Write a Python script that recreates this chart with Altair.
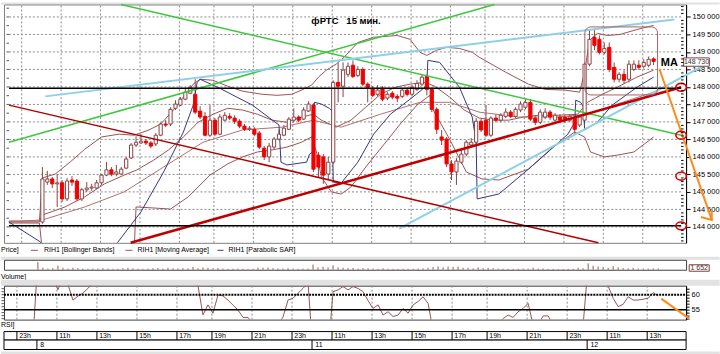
import altair as alt
import pandas as pd

FONT = "Liberation Sans"
BROWN = "#9c5353"
WICK = "#8a4545"
NAVY = "#36367e"
GRID = "#8c8c8c"
GREY = "#e2e2e2"
RED_BODY = "#f20000"

# x = 15-minute bar index (bar 0 = day 8, 10:00)
XMIN, XMAX = -6.78, 129.58
LEFT_EDGE, RIGHT_EDGE = -7.38, 136.3
PMIN, PMAX = 143545, 150356
RMIN, RMAX = 51.67, 63
W = 684

# ---------------- candles (RIH1, 15 min) ----------------
opens = [144140, 145280, 145370, 145230, 145260, 144800, 145340, 145310, 144800, 145060,
         145110, 145110, 145260, 145480, 145630, 145510, 145510, 145680, 145970, 146340,
         146400, 146450, 146400, 146370, 146620, 146940, 146940, 147390, 147480, 147650,
         147820, 147790, 147310, 147160, 146620, 147050, 146650, 147050, 147160, 147110,
         147020, 146880, 146790, 146790, 146680, 146250, 146000, 146280, 146510, 146620,
         146790, 147050, 147140, 147080, 147310, 147480, 146050, 146000, 145510, 145850,
         148130, 148020, 148360, 148620, 148330, 148500, 148080, 147960, 147790, 147960,
         147680, 147820, 147730, 147730, 147910, 147790, 147930, 148080, 148300, 147930,
         147360, 146570, 146510, 145800, 145570, 145850, 146080, 146340, 146420, 147020,
         147050, 146620, 147110, 147050, 147160, 147280, 147160, 147340, 147420, 147560,
         147110, 146990, 147140, 147280, 147050, 147140, 147140, 147050, 147110, 146910,
         147050, 148650, 149420, 149360, 148990, 149130, 148560, 148220, 148360, 148220,
         148500, 148620, 148590, 148620, 148800]
closes = [145370, 145370, 145230, 145260, 144800, 145310, 145280, 144800, 145060, 145110,
          145140, 145260, 145480, 145630, 145510, 145570, 145650, 145940, 146340, 146420,
          146450, 146400, 146310, 146620, 146940, 146910, 147360, 147510, 147650, 147850,
          147990, 147280, 147140, 146620, 147050, 146650, 147140, 147190, 147110, 147020,
          146880, 146790, 146820, 146650, 146280, 146000, 146310, 146510, 146650, 146820,
          147080, 147140, 147050, 147340, 147510, 145650, 145710, 145480, 145850, 148130,
          148020, 148480, 148590, 148300, 148500, 148080, 147990, 147760, 147910, 147650,
          147790, 147710, 147680, 147910, 147790, 147990, 148100, 148280, 147930, 147360,
          146790, 146480, 145800, 145570, 145880, 146080, 146420, 146420, 147020, 146770,
          146620, 147110, 147050, 147190, 147280, 147160, 147360, 147510, 147560, 147080,
          146990, 147280, 147280, 147140, 147190, 147050, 147050, 147160, 146790, 147140,
          148650, 149360, 149190, 148990, 149100, 148500, 148220, 148360, 148190, 148650,
          148650, 148560, 148700, 148790, 148730]
highs = [145710, 145600, 145430, 145510, 145340, 145400, 145450, 145370, 145110, 145280,
         145230, 145340, 145510, 145850, 145710, 145770, 145710, 146000, 146400, 146590,
         146650, 146510, 146450, 146680, 146990, 147050, 147420, 147620, 147710, 147960,
         148050, 148220, 147450, 147280, 147480, 147110, 147220, 147280, 147250, 147190,
         147080, 146940, 146880, 146850, 146740, 146310, 146400, 146570, 146790, 146910,
         147140, 147390, 147190, 147420, 147590, 147530, 146140, 146080, 146000, 148190,
         148700, 148700, 148700, 148760, 148590, 148560, 148130, 148020, 148050, 148020,
         147850, 147880, 147790, 147960, 147990, 148050, 148190, 148360, 148360, 147990,
         147420, 146770, 146570, 145910, 145970, 146200, 146480, 146540, 147110, 147080,
         147480, 147160, 147220, 147250, 147390, 147340, 147420, 147590, 147650, 147650,
         147190, 147360, 147390, 147340, 147250, 147220, 147190, 147220, 147190, 147190,
         148700, 149620, 149670, 149470, 149270, 149270, 148700, 148420, 148480, 148760,
         148760, 148760, 148790, 148870, 148850]
lows = [144090, 145200, 145110, 144570, 144710, 144740, 145170, 144740, 144740, 145000,
        145030, 145080, 145200, 145450, 145450, 145450, 145480, 145650, 145940, 146280,
        146370, 146340, 146250, 146310, 146590, 146850, 146880, 147340, 147450, 147620,
        147790, 147220, 147080, 146590, 146570, 146590, 146620, 147020, 147050, 146940,
        146820, 146740, 146740, 146590, 146220, 145910, 145850, 146220, 146480, 146590,
        146770, 146990, 146990, 147050, 147280, 145570, 145430, 145230, 145340, 145800,
        147560, 147710, 148280, 148250, 148280, 148020, 147560, 147710, 147730, 147590,
        147620, 147650, 147560, 147680, 147730, 147730, 147880, 148020, 147760, 147280,
        146650, 146340, 145710, 145340, 145200, 145800, 146020, 146280, 146370, 146710,
        146570, 146570, 146990, 146990, 147110, 147110, 147110, 147280, 147360, 147020,
        146910, 146940, 147080, 147050, 146990, 146960, 146960, 146990, 146650, 146850,
        146940, 148590, 149050, 148930, 148930, 148420, 148130, 148130, 148080, 148130,
        148450, 148480, 148530, 148560, 148620]

# ---------------- indicators ----------------
bbu_i = [-6.8, -0.6, 0, 2.6, 5.6, 8.6, 12, 15.6, 18.6, 21.6, 24, 26.6, 28.6, 30.6, 32, 34.6, 37.6,
         40.6, 44.6, 47.6, 50.6, 52.6, 54.6, 56, 57.6, 59.6, 61.2, 64, 67.2, 72, 74.6, 76.6, 78, 80,
         82, 84.6, 87.2, 88.6, 94, 98.6, 102, 106, 109, 110, 111, 112.6, 114.6, 117.2, 120.6, 124]
bbu_p = [144170, 144170, 145400, 145510, 145850, 146220, 146570, 146650, 146620, 146770, 146940,
         147340, 147710, 148080, 148220, 148190, 148020, 147880, 147790, 147760, 147790, 147910,
         148050, 148280, 148480, 148650, 148850, 149270, 149420, 149470, 149360, 148990, 148900,
         149050, 149130, 149100, 148990, 148850, 148420, 148080, 147930, 147910, 147850, 148420,
         149330, 149530, 149470, 149500, 149640, 149760]
bbm_i = [-6.8, -0.6, 0, 4.6, 8.6, 12.6, 16.6, 19.2, 22.6, 25.6, 28.6, 31.6, 34.6, 37.6, 40.6, 43.6,
         46.6, 49.6, 52.6, 55, 56.6, 59.6, 62.6, 65.6, 68.6, 71.6, 74.6, 77.6, 79.6, 82.6, 85.6, 88.6,
         91.6, 94.6, 97.6, 100.6, 104.6, 108.6, 110.6, 113.6, 116.6, 120.6, 124]
bbm_p = [144140, 144140, 144340, 144570, 144860, 145230, 145480, 145630, 145910, 146200, 146570,
         146990, 147220, 147390, 147340, 147220, 147050, 146990, 147140, 147220, 147050, 146850,
         147050, 147420, 147790, 147990, 148080, 148130, 148020, 147710, 147340, 147110, 147050,
         147050, 147140, 147190, 147190, 147220, 147560, 147790, 147990, 148280, 148480]
bbl_i = [-6.8, -0.6, 0, 18.6, 19, 22.6, 26, 29.6, 34, 37.6, 40.6, 43.6, 46.6, 49.6, 52.6, 54.6, 55.6,
         56.6, 58.6, 60.6, 62.6, 65.6, 69.2, 72.6, 76, 78.6, 79.2, 82.6, 86, 89.2, 92.6, 98.6, 103.6,
         108, 110, 111.2, 114, 116.6, 120, 124]
bbl_p = [144110, 144110, 143290, 143290, 144570, 144540, 144510, 144860, 145480, 145800, 146000,
         146140, 146200, 146280, 146420, 146570, 146140, 145430, 145000, 144940, 145140, 145710,
         146340, 146940, 147480, 147760, 147360, 146510, 145570, 145370, 145340, 145650, 146280,
         146710, 146570, 146140, 146000, 146050, 146140, 146570]
ma_i = [-6.8, 0, 8.6, 16.6, 24.6, 32.6, 40.6, 48.6, 55, 60.6, 68.6, 76.6, 82.6, 88.6, 96.6, 104.6,
        110.6, 116.6, 124]
ma_p = [144140, 144200, 144570, 145000, 145710, 146420, 146770, 146850, 147050, 146850, 147220,
        147560, 147560, 147280, 147140, 147140, 147220, 147510, 147850]
sar_i = [-6.8, -0.4, 0.6, 14.6, 15.2, 20, 24.6, 28.6, 30.6, 31.4, 32, 36, 42.6, 48, 48.4, 49.6, 53.6,
         54.2, 54.8, 55.2, 56.6, 58.2, 58.8, 59, 60.6, 64, 67.2, 70.6, 74.6, 77.6, 78, 78.2, 80.6,
         84.6, 87.2, 88, 88.2, 92.6, 98.6, 103.2, 106.6, 108, 108.2, 109.2, 109.8, 110, 112.6, 115.6,
         120.6, 124]
sar_p = [144140, 143570, 143000, 143140, 143545, 144430, 145570, 146710, 147480, 148130, 148220,
         147960, 147480, 146910, 145850, 145770, 145850, 146080, 146140, 147560, 147510, 147390,
         147310, 145280, 145250, 145850, 146650, 147220, 147650, 147990, 148130, 148760, 148700,
         147990, 147140, 146420, 144800, 144940, 145650, 146220, 146650, 146990, 147620, 147560,
         147420, 146770, 146990, 147480, 147990, 148280]

volume = [9500, 2500, 1500, 2000, 5000, 2500, 1500, 2500, 2000, 1500,
          1200, 1500, 1500, 2000, 1500, 1200, 1300, 2000, 2500, 1800,
          1500, 1200, 1400, 1800, 2200, 1500, 2500, 1800, 1600, 2000,
          1800, 3500, 2000, 2800, 2500, 2000, 2200, 1500, 1200, 1300,
          1500, 1200, 1000, 1300, 2500, 2500, 2800, 2000, 1600, 1500,
          1800, 1500, 1200, 1400, 1500, 6500, 3000, 3500, 3000, 5500,
          3000, 2500, 2000, 2200, 1500, 2000, 1800, 1600, 1200, 1800,
          1300, 1200, 1100, 1300, 1200, 1300, 1500, 1800, 2500, 3500,
          4000, 3000, 4000, 3500, 3800, 2500, 2500, 1800, 3000, 2000,
          2500, 2000, 1500, 1300, 1200, 1100, 1300, 1500, 1400, 2500,
          1500, 1600, 1200, 1100, 1000, 1000, 1200, 1100, 2500, 1800,
          8000, 5000, 4000, 3500, 2500, 4500, 3000, 2000, 1800, 2500,
          1600, 1500, 1400, 1700, 1652]

rsi_start = -6
rsi = [45, 45, 45, 45, 45, 45,
       72, 70, 68, 66, 61.6, 66, 63.5, 58.2, 59.5, 60.5,
       62.1, 64, 66, 68, 67, 70, 69, 68, 71, 73,
       72, 74, 73, 75, 76, 74, 75, 77, 76, 78,
       77, 68, 63, 53.2, 56.6, 53.8, 59.9, 59.6, 58.2, 56.5,
       54.9, 52.4, 52.4, 50, 47, 44, 46, 48, 50, 52.5,
       58.2, 58.8, 60.5, 62.1, 64, 40, 38, 36, 40, 61,
       61.6, 62.7, 61.6, 62.7, 62.1, 61, 58, 55.4, 56.6, 53.2,
       54.3, 52.7, 53.2, 55.4, 53.8, 56.6, 57.7, 59.3, 57.1, 48,
       42, 40, 35, 33, 38, 41, 45, 45, 49, 47,
       46, 49, 50, 52, 53.2, 52.4, 54.3, 55.4, 57.1, 50,
       50, 52.9, 52.9, 50, 51, 50, 50.5, 51, 47, 50,
       70, 74, 70, 66, 62.9, 58.8, 56, 56.8, 59.3, 58.2,
       58.2, 58.5, 58.8, 60.7, 59.6]

price_ticks = [144000, 144500, 145000, 145500, 146000, 146500, 147000,
               147500, 148000, 148500, 149000, 149500, 150000]
hour_bars = [-4, 4, 12, 20, 28, 35, 43, 51, 59, 67, 75, 83, 90, 98, 106, 114, 122]
hour_labels = ["23h", "11h", "13h", "15h", "17h", "19h", "21h", "23h", "11h",
               "13h", "15h", "17h", "19h", "21h", "23h", "11h", "13h"]
day_bars = [0, 55, 110]
day_labels = ["8", "11", "12"]

# drawn objects: (id, colour, width, [(bar, price), ...])
trend_lines = [
    ("g1", "#3cc83c", 1.5, [(15.95, 150356), (129.58, 146620)]),
    ("g2", "#3cc83c", 1.5, [(-6.78, 146420), (91.7, 150356)]),
    ("b1", "#8fd0e8", 2.0, [(0.6, 147730), (128.2, 149930)]),
    ("b2", "#8fd0e8", 2.0, [(72.4, 143950), (135.4, 148700)]),
    ("r1", "#b00000", 1.5, [(-6.78, 147480), (112.8, 143545)]),
    ("r2", "#c00000", 2.5, [(17.9, 143545), (129.58, 147990)]),
    ("k1", "#000000", 1.5, [(-6.78, 147960), (129.58, 147960)]),
    ("k2", "#000000", 1.5, [(-6.78, 144030), (129.58, 144030)]),
    ("o1", "#ff8a1c", 2.0, [(125.2, 148504), (135.8, 144200)]),
    ("o2", "#ff8a1c", 2.0, [(135.8, 144457), (135.8, 144200), (133.6, 144285)]),
]
circle_p = [147990, 146620, 145450, 144030]

# ---------------- axes & helpers ----------------
grid_x = [b - 0.2 for b in hour_bars]
y_axis = alt.Axis(orient="right", values=price_ticks, grid=False,
                  labelExpr="replace(format(datum.value, ','), ',', ' ')", labelFont=FONT,
                  labelFontSize=7.5, labelColor="black", labelPadding=2, tickColor="black",
                  tickSize=4, domainColor="black", title=None)
rsi_axis = alt.Axis(orient="right", values=list(range(52, 63)),
                    labelExpr="datum.value == 60 || datum.value == 55 ? datum.value : ''",
                    tickSize=3, tickColor="black", domainColor="black", labelFont=FONT,
                    labelFontSize=7.5, labelColor="black", labelPadding=2, grid=False, title=None)


def XN(f):
    return alt.X(f, type="quantitative", scale=alt.Scale(domain=[XMIN, XMAX], nice=False, zero=False), axis=None)


def P(f):
    return alt.Y(f, type="quantitative",
                 scale=alt.Scale(domain=[PMIN, PMAX], nice=False, zero=False), axis=y_axis)


def R(f):
    return alt.Y(f, type="quantitative",
                 scale=alt.Scale(domain=[RMIN, RMAX], nice=False, zero=False), axis=rsi_axis)


def SY(f, H):
    return alt.Y(f, type="quantitative",
                 scale=alt.Scale(domain=[0, H], reverse=True, nice=False, zero=False), axis=None)


def spacer(H):
    df = pd.DataFrame({"a": [LEFT_EDGE], "b": [RIGHT_EDGE], "y0": [0], "y1": [H]})
    return alt.Chart(df).mark_rect(color=GREY).encode(
        x=XN("a"), x2="b", y=SY("y0", H), y2="y1").properties(width=W, height=H)


# ---------------- main price panel ----------------
hgrid = alt.Chart(pd.DataFrame({"a": [XMIN] * len(price_ticks), "b": [XMAX] * len(price_ticks),
                                "p": price_ticks})).mark_rule(
    color=GRID, strokeWidth=1, strokeDash=[2, 2]).encode(x=XN("a"), x2="b", y=P("p"))
vgrid = alt.Chart(pd.DataFrame({"i": grid_x, "p1": [PMIN] * len(grid_x), "p2": [PMAX] * len(grid_x)})).mark_rule(
    color=GRID, strokeWidth=1, strokeDash=[2, 2]).encode(x=XN("i"), y=P("p1"), y2="p2")

candle = pd.DataFrame({"i": list(range(len(opens))), "o": opens, "h": highs, "l": lows, "c": closes})
candle["dir"] = ["up" if c >= o else "down" for o, c in zip(opens, closes)]

wick = alt.Chart(candle).mark_rule(color=WICK, strokeWidth=1).encode(
    x=XN("i"), y=P("l"), y2="h")

body = alt.Chart(candle).mark_bar(size=3.2, strokeWidth=1).encode(
    x=XN("i"), y=P("o"), y2="c",
    fill=alt.Fill("dir:N", scale=alt.Scale(domain=["up", "down"], range=["white", RED_BODY]), legend=None),
    stroke=alt.Stroke("dir:N", scale=alt.Scale(domain=["up", "down"], range=[WICK, RED_BODY]), legend=None))

rows = []
for name, ii, pp in [("upper", bbu_i, bbu_p), ("mid", bbm_i, bbm_p), ("lower", bbl_i, bbl_p),
                     ("ma", ma_i, ma_p), ("sar", sar_i, sar_p)]:
    for k, (a, b) in enumerate(zip(ii, pp)):
        rows.append({"s": name, "k": k, "i": a, "p": b})
ind_df = pd.DataFrame(rows)
ind = alt.Chart(ind_df).mark_line(strokeWidth=1, clip=True).encode(
    x=XN("i"), y=P("p"),
    color=alt.Color("s:N", scale=alt.Scale(domain=["upper", "mid", "lower", "ma", "sar"],
                                           range=[BROWN, BROWN, BROWN, "#b07070", NAVY]), legend=None),
    detail="s:N", order="k:Q")

trows = []
for lid, col, w, pts in trend_lines:
    for k, (a, b) in enumerate(pts):
        trows.append({"id": lid, "col": col, "w": w, "k": k, "i": a, "p": b})
trend_df = pd.DataFrame(trows)
trend = alt.Chart(trend_df).mark_line().encode(
    x=XN("i"), y=P("p"), color=alt.Color("col:N", scale=None),
    strokeWidth=alt.StrokeWidth("w:Q", scale=None), detail="id:N", order="k:Q")

ELLIPSE = ("M -1 0 C -1 -0.41 -0.55 -0.75 0 -0.75 C 0.55 -0.75 1 -0.41 1 0 "
           "C 1 0.41 0.55 0.75 0 0.75 C -0.55 0.75 -1 0.41 -1 0 Z")
circ = alt.Chart(pd.DataFrame({"i": [XMAX] * 4, "p": circle_p})).mark_point(
    shape=ELLIPSE, size=110, filled=False, color="#e00000", strokeWidth=1.6, opacity=1).encode(
    x=XN("i"), y=P("p"))

rrect = alt.Chart(pd.DataFrame({"a": [110.05], "b": [124.8], "p1": [149715], "p2": [147771]})).mark_rect(
    fill="white", fillOpacity=0, stroke="#a86262", strokeWidth=1, cornerRadius=6).encode(
    x=XN("a"), x2="b", y=P("p1"), y2="p2")

pbox = alt.Chart(pd.DataFrame({"a": [130.1], "b": [135.3], "p1": [148830], "p2": [148590]})).mark_rect(
    fill="white", stroke="#8b3a3a", strokeWidth=1).encode(x=XN("a"), x2="b", y=P("p1"), y2="p2")
ptext = alt.Chart(pd.DataFrame({"i": [132.7], "p": [148710], "t": ["148 730"]})).mark_text(
    font=FONT, fontSize=7, color="#333333", align="center", baseline="middle").encode(
    x=XN("i"), y=P("p"), text="t:N")

title = alt.Chart(pd.DataFrame({"i": [61.6], "p": [149870], "t": ["фРТС\u00a0\u00a0\u00a015 мин."]})).mark_text(
    font=FONT, fontSize=9.5, fontWeight="bold", color="black", align="center", baseline="middle").encode(
    x=XN("i"), y=P("p"), text="t:N")
ma_txt = alt.Chart(pd.DataFrame({"i": [127.2], "p": [148675], "t": ["MA"]})).mark_text(
    font=FONT, fontSize=11, fontWeight="bold", color="black", align="center", baseline="middle").encode(
    x=XN("i"), y=P("p"), text="t:N")

minor_p = [v for v in range(143600, 150400, 100) if v % 500 != 0]
minor = alt.Chart(pd.DataFrame({"a": [XMAX] * len(minor_p), "b": [XMAX + 0.5] * len(minor_p), "p": minor_p})).mark_rule(
    color="black", strokeWidth=1).encode(x=XN("a"), x2="b", y=P("p"))
left_p = list(range(143750, 150300, 250))
lticks = alt.Chart(pd.DataFrame({"a": [-7.28] * len(left_p), "b": [XMIN] * len(left_p), "p": left_p})).mark_rule(
    color="#555555", strokeWidth=1).encode(x=XN("a"), x2="b", y=P("p"))

main = alt.layer(hgrid, vgrid, wick, ind, body, trend, circ, rrect, pbox, ptext, title, ma_txt,
                 minor, lticks).properties(
    width=W, height=239, view=alt.ViewBackground(fill="white", stroke="#808080", strokeWidth=1))

# ---------------- legend row ----------------
LH = 14
leg_txt = alt.Chart(pd.DataFrame({
    "i": [LEFT_EDGE, 1.2, 19.9, 38.1], "y": [7.5] * 4,
    "t": ["Price]", "RIH1 [Bollinger Bands]", "RIH1 [Moving Average]", "RIH1 [Parabolic SAR]"]})).mark_text(
    font=FONT, fontSize=7, color="black", align="left", baseline="middle").encode(
    x=XN("i"), y=SY("y", LH), text="t:N")
leg_lines = alt.Chart(pd.DataFrame({
    "id": ["a", "a", "b", "b", "c", "c"], "i": [-1.4, 0, 17.5, 18.9, 35.9, 37.1],
    "y": [7.5] * 6, "col": [BROWN, BROWN, BROWN, BROWN, NAVY, NAVY]})).mark_line(strokeWidth=1).encode(
    x=XN("i"), y=SY("y", LH), detail="id:N", color=alt.Color("col:N", scale=None))
legend = alt.layer(leg_lines, leg_txt).properties(width=W, height=LH)

# ---------------- volume ----------------
VH = 10
vs = alt.Scale(domain=[0, 12500], nice=False, zero=False)
vol_df = pd.DataFrame({"i": list(range(len(volume))), "v": volume, "z": [0] * len(volume)})
vol_bars = alt.Chart(vol_df).mark_rule(color=BROWN, strokeWidth=1).encode(
    x=XN("i"), y=alt.Y("z:Q", scale=vs, axis=None), y2="v")
vbox = alt.Chart(pd.DataFrame({"a": [130.2], "b": [134.2], "v1": [6250], "v2": [-1875]})).mark_rect(
    fill="white", stroke="#8b3a3a", strokeWidth=1).encode(
    x=XN("a"), x2="b", y=alt.Y("v1:Q", scale=vs, axis=None), y2="v2")
vtext = alt.Chart(pd.DataFrame({"i": [132.2], "v": [2125], "t": ["1 652"]})).mark_text(
    font=FONT, fontSize=7, color="#333333", align="center", baseline="middle").encode(
    x=XN("i"), y=alt.Y("v:Q", scale=vs, axis=None), text="t:N")
vol = alt.layer(vol_bars, vbox, vtext).properties(
    width=W, height=VH, view=alt.ViewBackground(fill="white", stroke="#404040", strokeWidth=1))


def label_strip(text, H, yc):
    return alt.Chart(pd.DataFrame({"i": [LEFT_EDGE], "y": [yc], "t": [text]})).mark_text(
        font=FONT, fontSize=7, color="black", align="left", baseline="middle").encode(
        x=XN("i"), y=SY("y", H), text="t:N").properties(width=W, height=H)


# ---------------- RSI ----------------
RH = 34
rvgrid = alt.Chart(pd.DataFrame({"i": grid_x, "r1": [RMIN] * len(grid_x), "r2": [RMAX] * len(grid_x)})).mark_rule(
    color=GRID, strokeWidth=1, strokeDash=[2, 2]).encode(x=XN("i"), y=R("r1"), y2="r2")
rsi_df = pd.DataFrame({"i": list(range(rsi_start, rsi_start + len(rsi))), "r": rsi})
rsi_line = alt.Chart(rsi_df).mark_line(color=BROWN, strokeWidth=1, clip=True).encode(
    x=XN("i"), y=R("r"))
lvl60 = alt.Chart(pd.DataFrame({"a": [XMIN], "b": [XMAX], "r": [60]})).mark_rule(
    color="black", strokeWidth=2, strokeDash=[2, 1]).encode(x=XN("a"), x2="b", y=R("r"))
lvl55 = alt.Chart(pd.DataFrame({"a": [XMIN], "b": [XMAX], "r": [55]})).mark_rule(
    color="black", strokeWidth=1.5).encode(x=XN("a"), x2="b", y=R("r"))
rsi_arrow = alt.Chart(pd.DataFrame({"i": [124.6, 130.2], "r": [58.7, 52.0]})).mark_line(
    color="#ff8a1c", strokeWidth=2).encode(x=XN("i"), y=R("r"))
rl_p = list(range(52, 63))
rsi_lt = alt.Chart(pd.DataFrame({"a": [-7.28] * len(rl_p), "b": [XMIN] * len(rl_p), "r": rl_p})).mark_rule(
    color="#555555", strokeWidth=1).encode(x=XN("a"), x2="b", y=R("r"))
rsi_chart = alt.layer(rvgrid, rsi_line, lvl60, lvl55, rsi_arrow, rsi_lt).properties(
    width=W, height=RH, view=alt.ViewBackground(fill="white", stroke="#404040", strokeWidth=1))

# ---------------- time axis ----------------
TH = 21
rows_df = pd.DataFrame({"a": [XMIN, XMIN], "b": [XMAX, XMAX], "y0": [1, 9.5], "y1": [9.5, 19]})
t_rows = alt.Chart(rows_df).mark_rect(fill="white", stroke="black", strokeWidth=1).encode(
    x=XN("a"), x2="b", y=SY("y0", TH), y2="y1")
sep_df = pd.DataFrame({"i": grid_x + [b - 0.2 for b in day_bars],
                       "y0": [1] * len(grid_x) + [9.5] * len(day_bars),
                       "y1": [9.5] * len(grid_x) + [19] * len(day_bars)})
t_seps = alt.Chart(sep_df).mark_rule(color="black", strokeWidth=1).encode(
    x=XN("i"), y=SY("y0", TH), y2="y1")
lab_df = pd.DataFrame({"i": [g + 0.45 for g in grid_x] + [b + 0.45 for b in day_bars],
                       "y": [5.4] * len(grid_x) + [14.4] * len(day_bars),
                       "t": hour_labels + day_labels})
t_labs = alt.Chart(lab_df).mark_text(font=FONT, fontSize=7, color="black", align="left",
                                     baseline="middle").encode(x=XN("i"), y=SY("y", TH), text="t:N")
taxis = alt.layer(t_rows, t_seps, t_labs).properties(width=W, height=TH)

chart = alt.vconcat(
    spacer(2), main, legend, spacer(3), vol, label_strip("Volume]", 10, 7), spacer(6),
    rsi_chart, label_strip("RSI]", 11, 5.5), taxis, spacer(4),
    spacing=0, bounds="flush"
).properties(background="white", padding=0).configure_view(strokeWidth=0)

chart.save("out.html", embed_options={"renderer": "svg", "actions": False})
